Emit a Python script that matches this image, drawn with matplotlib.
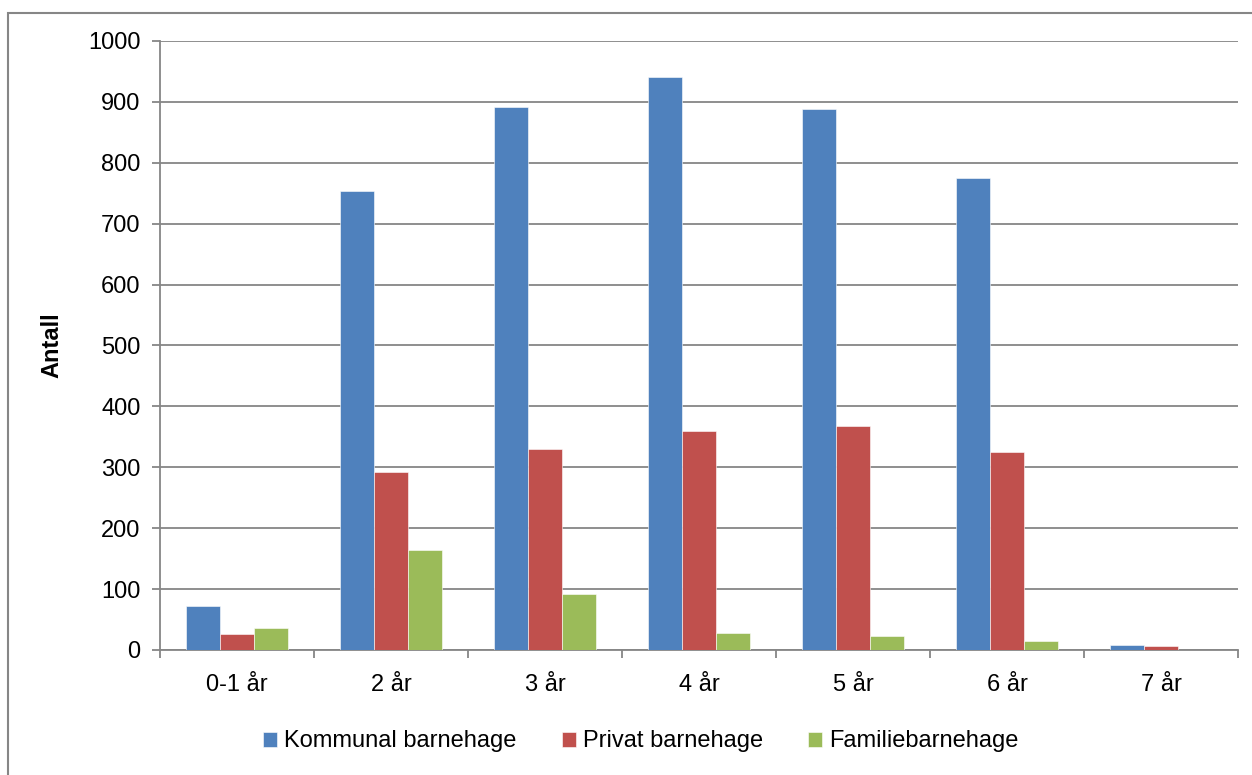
import numpy as np
import matplotlib.pyplot as plt
from matplotlib.patches import Rectangle

categories = ["0-1 år", "2 år", "3 år", "4 år", "5 år", "6 år", "7 år"]
kommunal = [73, 754, 892, 941, 888, 775, 9]
privat = [26, 292, 330, 360, 368, 325, 6]
familie = [36, 164, 92, 28, 23, 14, 0]
series_names = ["Kommunal barnehage", "Privat barnehage", "Familiebarnehage"]
colors = ["#4F81BD", "#C0504D", "#9BBB59"]

plt.rcParams["font.family"] = ["Liberation Sans", "DejaVu Sans"]
grid_col = "#868686"
fs = 17

fig = plt.figure(figsize=(12.52, 7.75), dpi=100)
ax = fig.add_axes([0.1278, 0.1613, 0.861, 0.7858])

x = np.arange(len(categories))
w = 0.22
for i, vals in enumerate([kommunal, privat, familie]):
    ax.bar(x + (i - 1) * w, vals, w, color=colors[i], label=series_names[i],
           edgecolor="white", linewidth=0.4, zorder=3)

ax.set_xlim(-0.5, len(categories) - 0.5)
ax.set_ylim(0, 1000)
ax.set_yticks(np.arange(0, 1001, 100))
ax.yaxis.grid(True, color=grid_col, linewidth=1.3, zorder=0)
ax.set_xticks(x)
ax.set_xticklabels(categories)
ax.set_xticks(np.arange(-0.5, len(categories)), minor=True)
ax.tick_params(axis="x", which="major", length=0, labelsize=fs, pad=17)
ax.tick_params(axis="x", which="minor", length=6, color=grid_col, width=1.3)
ax.tick_params(axis="y", length=6, color=grid_col, width=1.3, labelsize=fs, pad=8)

for s in ["top", "right"]:
    ax.spines[s].set_visible(False)
for s in ["left", "bottom"]:
    ax.spines[s].set_color(grid_col)
    ax.spines[s].set_linewidth(1.3)

ax.set_ylabel("Antall", fontsize=fs, fontweight="bold", labelpad=18)

ax.legend(loc="center", bbox_to_anchor=(0.446, -0.15), ncol=3, frameon=False,
          fontsize=fs, handlelength=0.6, handleheight=0.6, handletextpad=0.3,
          columnspacing=1.9)

# outer chart border
fig.patches.append(Rectangle((8 / 1252, -0.05), 1.1, 1 - 13 / 775 + 0.05,
                             transform=fig.transFigure, fill=False,
                             edgecolor=grid_col, linewidth=1.5))

fig.savefig("out.png", dpi=100)
